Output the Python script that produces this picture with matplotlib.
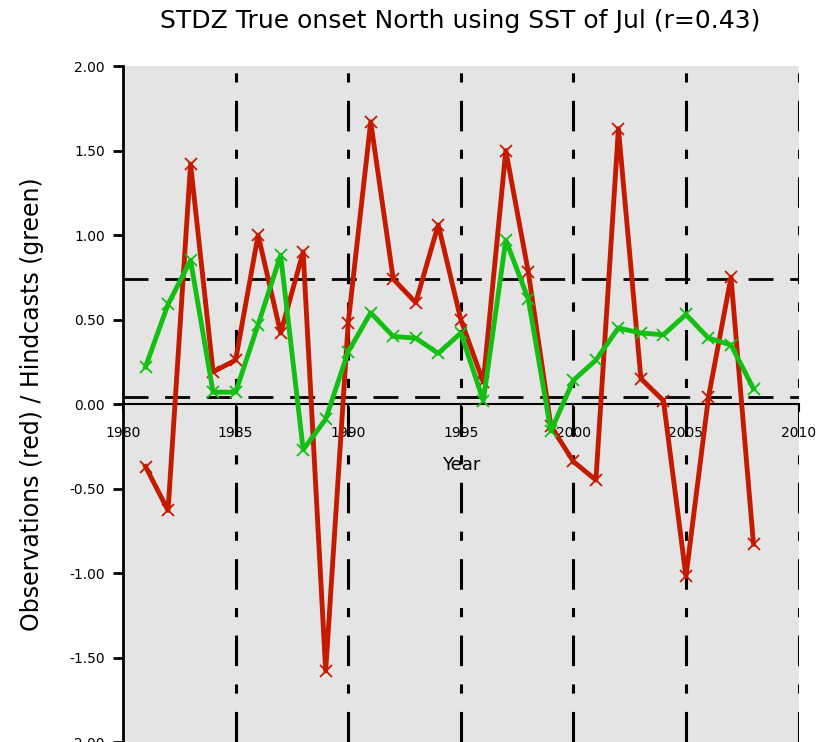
import numpy as np
import matplotlib
matplotlib.use("Agg")
import matplotlib.pyplot as plt

plt.rcParams['axes.unicode_minus'] = False

# years and standardised series
years = list(range(1981, 2009))
obs = [-0.37, -0.63, 1.42, 0.19, 0.26, 1.00, 0.42, 0.90, -1.58, 0.48,
       1.67, 0.74, 0.60, 1.06, 0.50, 0.13, 1.50, 0.78, -0.13, -0.34,
       -0.45, 1.63, 0.15, 0.02, -1.02, 0.04, 0.75, -0.83]
hind = [0.22, 0.59, 0.85, 0.07, 0.07, 0.47, 0.88, -0.27, -0.09, 0.31,
        0.54, 0.40, 0.39, 0.30, 0.42, 0.02, 0.97, 0.62, -0.16, 0.14,
        0.26, 0.45, 0.42, 0.41, 0.53, 0.39, 0.35, 0.09]
upper_line = 0.74
lower_line = 0.04
xticks = [1980, 1985, 1990, 1995, 2000, 2005, 2010]
yticks = [2.0, 1.5, 1.0, 0.5, 0.0, -0.5, -1.0, -1.5, -2.0]

fig = plt.figure(figsize=(8.34, 7.42), dpi=100)
ax = fig.add_axes([0.1475, 0.0, 0.81, 0.911])
ax.set_facecolor('#e4e4e4')

for xv in xticks[1:]:
    ax.axvline(xv, color='black', lw=2.2, ls=(0, (10, 6, 3, 6)), zorder=1)
ax.axhline(upper_line, color='black', lw=2, ls=(0, (9, 6)), zorder=1)
ax.axhline(lower_line, color='black', lw=2, ls=(0, (9, 6)), zorder=1)

ax.plot(years, obs, color='#c41a00', lw=3.5, marker='x', ms=9, mew=1.3, zorder=3)
ax.plot(years, hind, color='#12bf12', lw=3.5, marker='x', ms=9, mew=1.3, zorder=4)

ax.set_xlim(1980, 2010)
ax.set_ylim(-2, 2)
ax.spines['bottom'].set_position(('data', 0))
ax.spines['bottom'].set_linewidth(1.5)
ax.spines['left'].set_linewidth(2)
ax.spines['top'].set_visible(False)
ax.spines['right'].set_visible(False)

ax.set_xticks(xticks)
ax.set_xticklabels([str(x) for x in xticks], fontsize=10)
ax.set_yticks(yticks)
ax.set_yticklabels(['%.2f' % v for v in yticks], fontsize=10)
ax.tick_params(axis='y', direction='out', length=7, width=2, pad=6)
ax.tick_params(axis='x', direction='out', length=6, width=1.5, pad=10)

ax.text(1995, -0.36, 'Year', ha='center', va='center', fontsize=13)
ax.set_ylabel('Observations (red) / Hindcasts (green)', fontsize=17, labelpad=18)
fig.suptitle('STDZ True onset North using SST of Jul (r=0.43)', x=0.552, y=0.988,
             fontsize=18, va='top')

fig.savefig('out.png', dpi=100)
